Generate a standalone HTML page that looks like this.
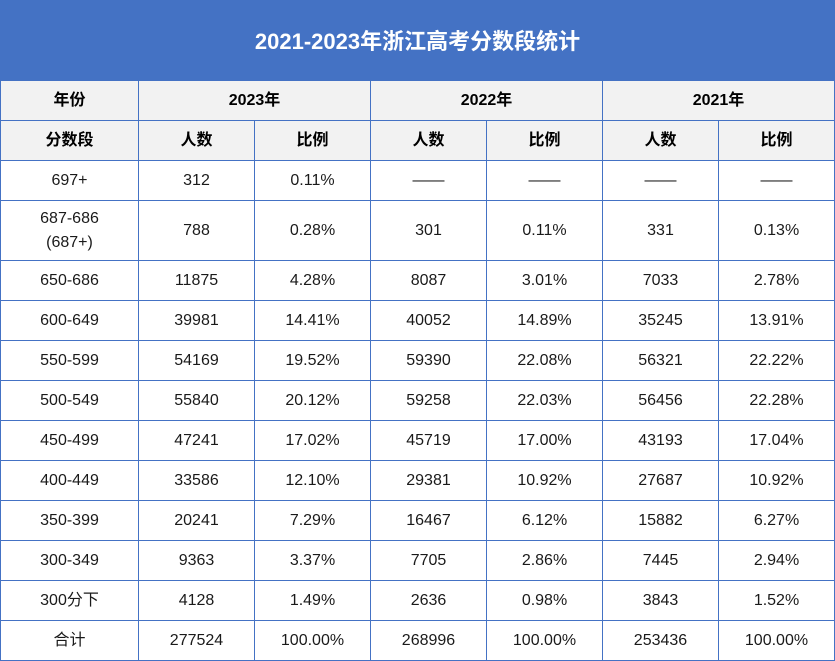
<!DOCTYPE html>
<html><head><meta charset="utf-8"><style>
body{margin:0;width:835px;height:661px;background:#fff;position:relative;overflow:hidden;font-family:"Liberation Sans","Noto Sans CJK SC",sans-serif;}
#title{position:absolute;left:0;top:0;width:835px;height:80px;background:#4472c4;color:#fff;font-weight:bold;font-size:22px;display:flex;align-items:center;justify-content:center;}
.c{position:absolute;box-sizing:border-box;border:1px solid #4472c4;display:flex;align-items:center;justify-content:center;text-align:center;font-size:16px;color:#1a1a1a;line-height:24px;}
.h{background:#f2f2f2;font-weight:bold;color:#000;}
</style></head><body>
<div id="title">2021-2023年浙江高考分数段统计</div>
<div id="t"></div>
<script>
const cols=[0,138,254,370,486,602,718,834];
const rowsY=[160,200,260,300,340,380,420,460,500,540,580,620,660];
const rows=[
["697+","312","0.11%","——","——","——","——"],
["687-686<br>(687+)","788","0.28%","301","0.11%","331","0.13%"],
["650-686","11875","4.28%","8087","3.01%","7033","2.78%"],
["600-649","39981","14.41%","40052","14.89%","35245","13.91%"],
["550-599","54169","19.52%","59390","22.08%","56321","22.22%"],
["500-549","55840","20.12%","59258","22.03%","56456","22.28%"],
["450-499","47241","17.02%","45719","17.00%","43193","17.04%"],
["400-449","33586","12.10%","29381","10.92%","27687","10.92%"],
["350-399","20241","7.29%","16467","6.12%","15882","6.27%"],
["300-349","9363","3.37%","7705","2.86%","7445","2.94%"],
["300分下","4128","1.49%","2636","0.98%","3843","1.52%"],
["合计","277524","100.00%","268996","100.00%","253436","100.00%"]];
const t=document.getElementById('t');
function cell(x0,x1,y0,y1,html,hdr,name){
 const d=document.createElement('div');
 d.className='c'+(hdr?' h':'');
 d.style.left=x0+'px';d.style.top=y0+'px';d.style.width=(x1-x0+1)+'px';d.style.height=(y1-y0+1)+'px';
 d.innerHTML=html;
 
 
 t.appendChild(d);
}
cell(0,138,80,120,'年份',true,'year-header');
cell(138,370,80,120,'2023年',true,'header-2023');
cell(370,602,80,120,'2022年',true,'header-2022');
cell(602,834,80,120,'2021年',true,'header-2021');
const sub=['分数段','人数','比例','人数','比例','人数','比例'];
sub.forEach((s,i)=>cell(cols[i],cols[i+1],120,160,s,true,'subheader-cell'));
rows.forEach((r,ri)=>r.forEach((v,ci)=>cell(cols[ci],cols[ci+1],rowsY[ri],rowsY[ri+1],v,false,'data-cell')));
</script>
</body></html>
